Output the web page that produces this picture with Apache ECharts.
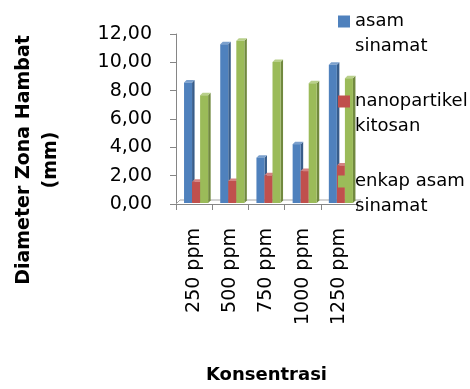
<!DOCTYPE html>
<html>
<head>
<meta charset="utf-8">
<script src="https://cdn.jsdelivr.net/npm/echarts@6/dist/echarts.min.js"></script>
<style>html,body{margin:0;padding:0;background:#fff;}#c{width:470px;height:389px;}</style>
</head>
<body>
<div id="c"></div>
<script>
var categories = ['250 ppm', '500 ppm', '750 ppm', '1000 ppm', '1250 ppm'];
var asamSinamat = [8.75, 11.45, 3.45, 4.40, 10.00];
var nanopartikelKitosan = [1.75, 1.80, 2.20, 2.50, 2.90];
var enkapAsamSinamat = [7.85, 11.70, 10.20, 8.70, 9.05];
var seriesNames = ['asam\nsinamat', 'nanopartikel\nkitosan', 'enkap asam\nsinamat'];
var yTicks = [0, 2, 4, 6, 8, 10, 12];

var palette = [
  {front: '#4F81BD', side: '#385D8A', top: '#7BA0CD'},
  {front: '#C0504D', side: '#8C3836', top: '#D38381'},
  {front: '#9BBB59', side: '#71893F', top: '#B9D08B'}
];

function makeRender(k) {
  return function (params, api) {
    var cat = api.value(0), v = api.value(1);
    var base = api.coord([cat, 0]);
    var top = api.coord([cat, v]);
    var cw = api.size([1, 0])[0];
    var w = cw * 0.222;
    var d = 2.5;
    var x0 = base[0] - cw * 0.278 + k * w;
    var bottom = base[1] - 1;
    var ft = Math.min(top[1] + d, bottom);
    var c = palette[k];
    return {
      type: 'group',
      children: [
        {type: 'polygon', shape: {points: [[x0 + w, ft], [x0 + w + d, ft - d], [x0 + w + d, bottom - d], [x0 + w, bottom]]}, style: {fill: c.side}},
        {type: 'polygon', shape: {points: [[x0, ft], [x0 + d, ft - d], [x0 + w + d, ft - d], [x0 + w, ft]]}, style: {fill: c.top}},
        {type: 'rect', shape: {x: x0, y: ft, width: w, height: bottom - ft}, style: {fill: c.front}}
      ]
    };
  };
}

function floorRender(params, api) {
  var cw = api.size([1, 0])[0];
  var p0 = api.coord([0, 0]);
  var pn = api.coord([categories.length - 1, 0]);
  var xl = p0[0] - cw / 2, xr = pn[0] + cw / 2, y = p0[1];
  var d = 4;
  return {
    type: 'polyline',
    shape: {points: [[xl, y], [xl + d, y - d], [xr + d, y - d]]},
    style: {stroke: '#A6A6A6', lineWidth: 1, fill: null}
  };
}

var valueSets = [asamSinamat, nanopartikelKitosan, enkapAsamSinamat];
var series = [{
  type: 'custom', name: 'floor', renderItem: floorRender, silent: true,
  data: [[0, 0]], encode: {x: 0, y: 1}, z: 1
}];
valueSets.forEach(function (vals, k) {
  series.push({
    type: 'custom',
    name: seriesNames[k],
    itemStyle: {color: palette[k].front},
    renderItem: makeRender(k),
    encode: {x: 0, y: 1},
    data: vals.map(function (v, i) { return [i, v]; }),
    z: 2
  });
});

var chart = echarts.init(document.getElementById('c'), null, {renderer: 'canvas'});
chart.setOption({
  animation: false,
  backgroundColor: '#fff',
  grid: {left: 176, right: 113, top: 34, bottom: 185, containLabel: false, outerBoundsMode: 'none'},
  legend: {
    data: seriesNames,
    orient: 'vertical',
    left: 338,
    top: -16,
    padding: 0,
    itemGap: 5,
    itemWidth: 12,
    itemHeight: 12,
    icon: 'rect',
    formatter: function (name) { return '\n' + name; },
    textStyle: {fontFamily: 'DejaVu Sans', fontSize: 18, color: '#000', lineHeight: 25}
  },
  xAxis: {
    type: 'category',
    data: categories,
    name: 'Konsentrasi',
    nameLocation: 'middle',
    nameGap: 162,
    nameTextStyle: {fontFamily: 'DejaVu Sans', fontWeight: 'bold', fontSize: 18, color: '#000'},
    axisLine: {show: true, lineStyle: {color: '#868686', width: 1}},
    axisTick: {show: true, length: 6, lineStyle: {color: '#868686'}},
    axisLabel: {rotate: 90, margin: 24, fontFamily: 'DejaVu Sans', fontSize: 19, color: '#000'},
    splitLine: {show: false}
  },
  yAxis: {
    type: 'value',
    min: 0, max: 12, interval: 2,
    name: 'Diameter Zona Hambat\n(mm)',
    nameLocation: 'middle',
    nameRotate: 90,
    nameGap: 111,
    nameTextStyle: {fontFamily: 'DejaVu Sans', fontWeight: 'bold', fontSize: 19, color: '#000', lineHeight: 27, padding: [0, 82, 0, 0]},
    axisLine: {show: true, lineStyle: {color: '#868686', width: 1}},
    axisTick: {show: true, length: 6, lineStyle: {color: '#868686'}},
    axisLabel: {
      margin: 24, fontFamily: 'DejaVu Sans', fontSize: 19, color: '#000',
      formatter: function (v) { return yTicks.indexOf(v) >= 0 ? v.toFixed(2).replace('.', ',') : ''; }
    },
    splitLine: {show: false}
  },
  series: series
});
</script>
</body>
</html>
